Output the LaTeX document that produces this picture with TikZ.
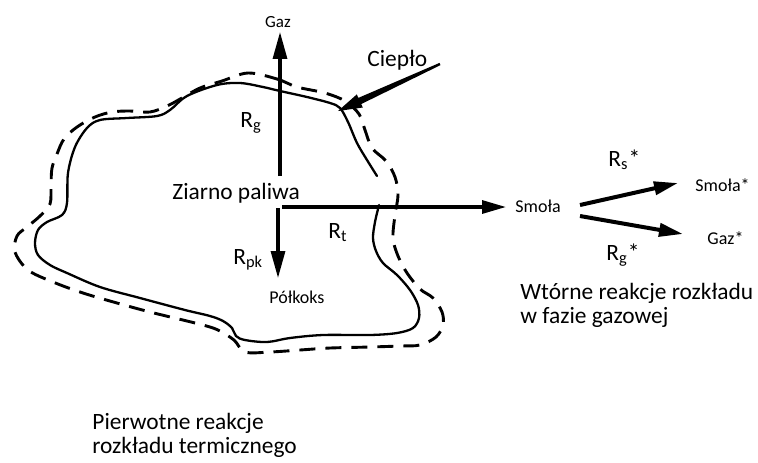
\documentclass[tikz,border=0pt]{standalone}
\usepackage{fontspec}
\setmainfont{Carlito}
\usetikzlibrary{arrows.meta,calc}
\begin{document}
\begin{tikzpicture}[x=0.5pt,y=-0.5pt,
  big/.style={inner sep=0pt,anchor=base west,font=\fontsize{11.7}{12}\selectfont},
  small/.style={inner sep=0pt,anchor=base west,font=\fontsize{9}{10}\selectfont},
  tiny/.style={inner sep=0pt,font=\fontsize{8.5}{9}\selectfont},
  para/.style={inner sep=0pt,anchor=base west,align=left,font=\fontsize{11.7}{12}\selectfont},
  flow/.style={line width=1.6pt,-{Triangle[length=13.5pt,width=7pt]}},
  flowthick/.style={line width=2pt,-{Triangle[length=12pt,width=6.5pt]}},
  outline/.style={line width=1.15pt,line join=round,line cap=round},
  shell/.style={line width=1.45pt,dash pattern=on 8pt off 5pt}]
\useasboundingbox (0,0) rectangle (758,462);

% fuel particle: solid surface (open at the right) and dashed boundary layer
\draw[outline] plot[smooth,tension=0.55] coordinates {
  (379,205) (375,222) (373,238) (376,251) (383,263) (397,275) (410,290)
  (418,305) (419,318) (413,328) (397,333) (370,335) (323,335) (290,338)
  (267,342) (245,340) (236,336) (232,328) (223,321) (210,316) (185,310)
  (140,298) (100,287) (67,273) (50,265) (38,255) (35,243) (38,230)
  (47,222) (62,215) (67,203) (68,173) (75,147) (87,128) (100,120)
  (127,118) (157,116) (170,110) (187,96) (217,85) (240,83) (263,87)
  (280,91) (307,97) (330,103) (340,108) (348,122) (357,143) (367,160)
  (377,176)};
\draw[shell] plot[smooth cycle,tension=0.55] coordinates {
  (248,73) (277,79) (297,87) (325,93) (345,101) (359,114) (365,130)
  (372,148) (386,161) (395,177) (398,195) (395,215) (393,238) (398,256)
  (407,273) (420,289) (433,298) (442,312) (443,325) (436,337) (420,345)
  (400,346) (370,347) (330,348) (300,350) (270,352) (245,352) (234,340)
  (218,330) (203,325) (187,321) (150,312) (117,303) (83,293) (53,282)
  (28,270) (15,252) (17,236) (27,227) (40,216) (50,204) (51,185)
  (52,168) (57,154) (64,139) (77,127) (95,117) (112,112) (130,111)
  (150,112) (167,106) (182,98) (200,88) (222,81)};

% labels
\node[tiny] (gaz) at (278,22) {Gaz};
\node[big] (cieplo) at (367,66) {Ciepło};
\node[big] (ziarno) at (172,199) {Ziarno paliwa};
\node[big] (rg) at (240,127) {R\textsubscript{g}};
\node[big] (rpk) at (233,264) {R\textsubscript{pk}};
\node[big] (rt) at (328,238) {R\textsubscript{t}};
\node[small] (polkoks) at (269,303) {Półkoks};
\node[small] (smola) at (515,212) {Smoła};
\node[big] (rs2) at (608,166) {R\textsubscript{s}*};
\node[big] (rg2) at (606,260) {R\textsubscript{g}*};
\node[small] (smola2) at (695,191) {Smoła*};
\node[small] (gaz2) at (707,244) {Gaz*};
\node[para] (wtorne) at (520,323) {Wtórne reakcje rozkładu\\w fazie gazowej};
\node[para] (pierwotne) at (92,453) {Pierwotne reakcje\\rozkładu termicznego};

% primary decomposition paths
\coordinate (upStart) at (280,176);
\coordinate (downStart) at (278,208);
\coordinate (downTip) at (278,278);
\coordinate (tarStart) at (282,207);
\draw[flow] (upStart) -- ($(upStart |- gaz.south)+(0,4)$);
\draw[flow] (downStart) -- (downTip);
\draw[line width=1.6pt,-{Triangle[length=12pt,width=6.5pt]}]
  (tarStart) -- ($(smola.west |- tarStart)+(-9,0)$);

% secondary reactions in the gas phase
\coordinate (s1) at (580,205);
\coordinate (s1tip) at (678,183);
\coordinate (s2) at (580,216);
\coordinate (s2tip) at (683,234);
\draw[flowthick] (s1) -- (s1tip);
\draw[flowthick] (s2) -- (s2tip);

% heat supplied to the particle surface
\coordinate (hs) at (440,64);
\coordinate (ht) at (338,111);
\coordinate (hb) at ($(ht)!12pt!(hs)$);
\fill ($(hs)!0.6pt!90:(ht)$) -- ($(hb)!1.7pt!90:(ht)$) -- ($(hb)!3.6pt!90:(ht)$)
  -- (ht) -- ($(hb)!3.6pt!-90:(ht)$) -- ($(hb)!1.7pt!-90:(ht)$)
  -- ($(hs)!0.6pt!-90:(ht)$) -- cycle;
\end{tikzpicture}
\end{document}
